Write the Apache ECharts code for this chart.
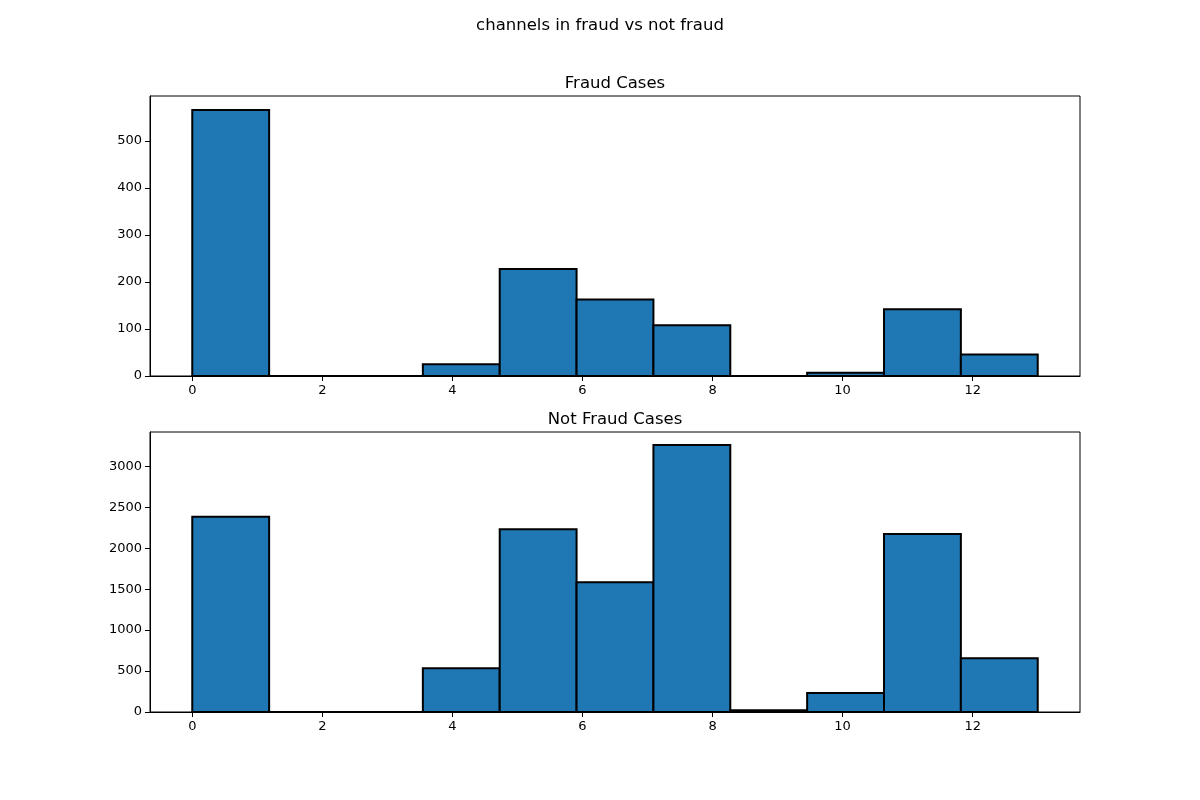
<!DOCTYPE html>
<html>
<head>
<meta charset="utf-8">
<title>channels in fraud vs not fraud</title>
<script src="https://cdn.jsdelivr.net/npm/echarts@6/dist/echarts.min.js"></script>
<style>
  html, body { margin: 0; padding: 0; background: #fff; }
  #chart { width: 1200px; height: 800px; }
</style>
</head>
<body>
<div id="chart"></div>
<script>
// histogram bins (11 bins between 0 and 13)
var binEdges = [0, 1.1818, 2.3636, 3.5455, 4.7273, 5.9091, 7.0909, 8.2727, 9.4545, 10.6364, 11.8182, 13];
var fraudCounts = [566, 0, 0, 25, 228, 163, 108, 0, 7, 142, 46];
var notFraudCounts = [2384, 0, 0, 534, 2233, 1585, 3260, 20, 232, 2172, 656];
var xTicks = [0, 2, 4, 6, 8, 10, 12];

function toBins(counts) {
  var out = [];
  for (var i = 0; i < counts.length; i++) {
    out.push([binEdges[i], binEdges[i + 1], counts[i]]);
  }
  return out;
}

function renderBar(params, api) {
  var p0 = api.coord([api.value(0), 0]);
  var p1 = api.coord([api.value(1), api.value(2)]);
  return {
    type: 'rect',
    shape: { x: p0[0], y: p1[1], width: p1[0] - p0[0], height: p0[1] - p1[1] },
    style: { fill: '#1f77b4', stroke: '#000', lineWidth: 2 }
  };
}

var font = 'DejaVu Sans';
var labelStyle = { color: '#000', fontFamily: font, fontSize: 13 };

function xAxis(idx) {
  return {
    type: 'value', gridIndex: idx, min: -0.65, max: 13.65,
    axisLine: { show: true, onZero: false, lineStyle: { color: '#000', width: 1 } },
    axisTick: { show: true, length: 5, lineStyle: { color: '#000' }, customValues: xTicks },
    axisLabel: Object.assign({ margin: 8, customValues: xTicks }, labelStyle),
    splitLine: { show: false }
  };
}

function yAxis(idx, max, interval) {
  return {
    type: 'value', gridIndex: idx, min: 0, max: max, interval: interval,
    axisLine: { show: true, onZero: false, lineStyle: { color: '#000', width: 1 } },
    axisTick: { show: true, length: 5, lineStyle: { color: '#000' } },
    axisLabel: Object.assign({
      margin: 8, showMaxLabel: false,
      formatter: function (v) { return String(v); }
    }, labelStyle),
    splitLine: { show: false }
  };
}

var titleStyle = { fontFamily: font, fontSize: 16.5, fontWeight: 'normal', color: '#000' };

var chart = echarts.init(document.getElementById('chart'));
chart.setOption({
  backgroundColor: '#fff',
  animation: false,
  title: [
    { text: 'channels in fraud vs not fraud', left: 595, top: 12, textAlign: 'center', textStyle: titleStyle },
    { text: 'Fraud Cases', left: 610, top: 70, textAlign: 'center', textStyle: titleStyle },
    { text: 'Not Fraud Cases', left: 610, top: 406, textAlign: 'center', textStyle: titleStyle }
  ],
  grid: [
    { left: 150, right: 120, top: 96, height: 280, show: true, borderColor: '#000', borderWidth: 1, containLabel: false },
    { left: 150, right: 120, top: 432, height: 280, show: true, borderColor: '#000', borderWidth: 1, containLabel: false }
  ],
  xAxis: [xAxis(0), xAxis(1)],
  yAxis: [yAxis(0, 596, 100), yAxis(1, 3419, 500)],
  series: [
    { type: 'custom', xAxisIndex: 0, yAxisIndex: 0, renderItem: renderBar,
      encode: { x: [0, 1], y: 2 }, data: toBins(fraudCounts) },
    { type: 'custom', xAxisIndex: 1, yAxisIndex: 1, renderItem: renderBar,
      encode: { x: [0, 1], y: 2 }, data: toBins(notFraudCounts) }
  ]
});
</script>
</body>
</html>
